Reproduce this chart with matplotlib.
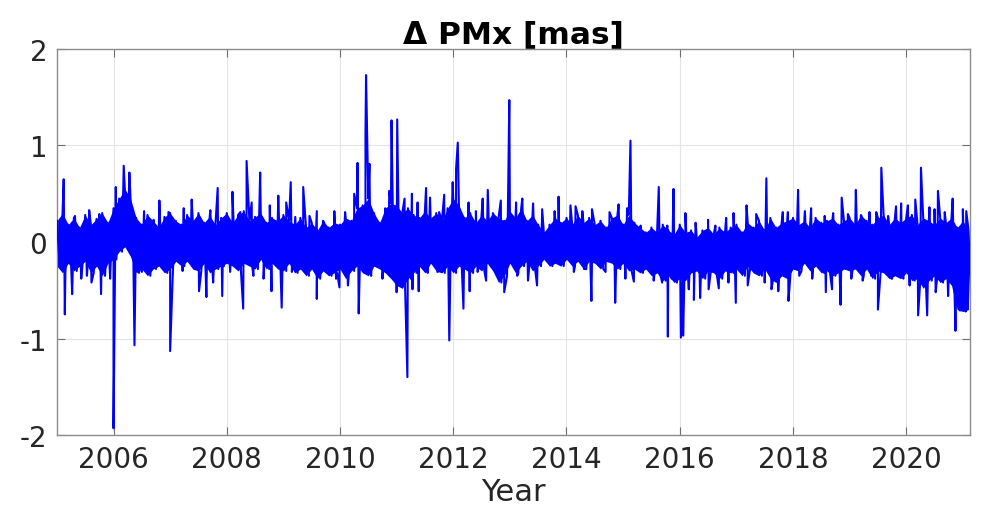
import matplotlib.pyplot as plt
import numpy as np

# core band of the residual series, read every 0.1 yr from 2005.0
band_start = 2005.0
band_step = 0.1
band_hi = [
    0.22, 0.30, 0.18, 0.25, 0.15, 0.28, 0.18, 0.24, 0.30, 0.20,   # 2005
    0.35, 0.45, 0.55, 0.45, 0.25, 0.18, 0.28, 0.22, 0.15, 0.26,   # 2006
    0.30, 0.22, 0.18, 0.28, 0.22, 0.30, 0.20, 0.27, 0.18, 0.25,   # 2007
    0.30, 0.20, 0.28, 0.32, 0.22, 0.26, 0.30, 0.20, 0.25, 0.22,   # 2008
    0.28, 0.22, 0.18, 0.25, 0.15, 0.20, 0.12, 0.22, 0.15, 0.20,   # 2009
    0.18, 0.25, 0.22, 0.35, 0.38, 0.45, 0.30, 0.20, 0.35, 0.40,   # 2010
    0.38, 0.30, 0.35, 0.28, 0.25, 0.32, 0.25, 0.30, 0.22, 0.35,   # 2011
    0.45, 0.38, 0.25, 0.30, 0.20, 0.28, 0.22, 0.30, 0.25, 0.22,   # 2012
    0.32, 0.25, 0.35, 0.22, 0.28, 0.18, 0.10, 0.18, 0.25, 0.20,   # 2013
    0.25, 0.18, 0.28, 0.20, 0.25, 0.18, 0.22, 0.15, 0.25, 0.28,   # 2014
    0.18, 0.28, 0.20, 0.15, 0.10, 0.15, 0.10, 0.18, 0.12, 0.08,   # 2015
    0.18, 0.10, 0.12, 0.05, 0.12, 0.15, 0.08, 0.15, 0.10, 0.15,   # 2016
    0.18, 0.10, 0.20, 0.15, 0.22, 0.12, 0.25, 0.15, 0.20, 0.22,   # 2017
    0.25, 0.18, 0.22, 0.15, 0.25, 0.20, 0.22, 0.25, 0.18, 0.22,   # 2018
    0.25, 0.18, 0.28, 0.22, 0.18, 0.25, 0.28, 0.18, 0.25, 0.20,   # 2019
    0.25, 0.28, 0.18, 0.25, 0.22, 0.18, 0.25, 0.20, 0.25, 0.15,   # 2020
    0.22, 0.12,                                                   # 2021
]
band_lo = [
    -0.25, -0.32, -0.22, -0.30, -0.25, -0.20, -0.32, -0.25, -0.35, -0.22,
    -0.18, -0.10, -0.05, -0.15, -0.32, -0.28, -0.35, -0.28, -0.25, -0.32,
    -0.28, -0.20, -0.25, -0.20, -0.28, -0.30, -0.22, -0.32, -0.28, -0.25,
    -0.22, -0.25, -0.30, -0.22, -0.25, -0.28, -0.18, -0.28, -0.22, -0.28,
    -0.30, -0.22, -0.32, -0.28, -0.35, -0.28, -0.38, -0.30, -0.35, -0.32,
    -0.28, -0.38, -0.30, -0.25, -0.32, -0.35, -0.25, -0.28, -0.32, -0.38,
    -0.45, -0.48, -0.38, -0.32, -0.25, -0.32, -0.22, -0.30, -0.32, -0.25,
    -0.32, -0.25, -0.28, -0.32, -0.25, -0.30, -0.22, -0.30, -0.42, -0.35,
    -0.22, -0.32, -0.25, -0.20, -0.30, -0.25, -0.18, -0.25, -0.22, -0.25,
    -0.18, -0.25, -0.20, -0.28, -0.20, -0.22, -0.28, -0.20, -0.22, -0.28,
    -0.22, -0.30, -0.28, -0.32, -0.28, -0.35, -0.32, -0.40, -0.35, -0.42,
    -0.38, -0.40, -0.32, -0.30, -0.38, -0.30, -0.32, -0.38, -0.30, -0.32,
    -0.28, -0.35, -0.25, -0.32, -0.35, -0.28, -0.38, -0.42, -0.35, -0.38,
    -0.28, -0.30, -0.22, -0.30, -0.25, -0.32, -0.30, -0.35, -0.32, -0.28,
    -0.30, -0.28, -0.35, -0.28, -0.38, -0.30, -0.32, -0.38, -0.35, -0.38,
    -0.32, -0.40, -0.38, -0.48, -0.40, -0.35, -0.42, -0.38, -0.45, -0.70,
    -0.72, -0.70,
]

# individual outliers sticking out of the band (year, mas)
spike_years = [
    2005.12, 2005.32, 2005.57, 2005.75, 2006.04, 2006.18, 2006.28, 2006.54, 2006.71,
    2006.81, 2006.97, 2007.24, 2007.38, 2007.71, 2007.84, 2007.94, 2008.10, 2008.24,
    2008.35, 2008.44, 2008.59, 2008.76, 2008.91, 2009.05, 2009.13, 2009.21, 2009.35,
    2009.46, 2009.59, 2009.72, 2009.90, 2010.09, 2010.25, 2010.31, 2010.45, 2010.46,
    2010.52, 2010.62, 2010.80, 2010.87, 2010.91, 2011.01, 2011.14, 2011.27, 2011.37,
    2011.52, 2011.59, 2011.75, 2011.84, 2011.99, 2012.05, 2012.08, 2012.27, 2012.40,
    2012.52, 2012.61, 2012.72, 2012.84, 2012.99, 2013.11, 2013.22, 2013.41, 2013.57,
    2013.79, 2013.86, 2014.07, 2014.16, 2014.28, 2014.45, 2014.76, 2014.92, 2015.07,
    2015.13, 2015.31, 2015.63, 2015.78, 2015.89, 2016.10, 2016.28, 2016.50, 2016.63,
    2016.82, 2016.95, 2017.18, 2017.35, 2017.53, 2017.82, 2017.91, 2018.09, 2018.21,
    2018.32, 2018.56, 2018.71, 2018.86, 2018.97, 2019.11, 2019.21, 2019.35, 2019.47,
    2019.56, 2019.68, 2019.82, 2019.91, 2020.03, 2020.16, 2020.26, 2020.41, 2020.50,
    2020.56, 2020.68, 2020.82, 2021.00, 2021.06,
    # downward
    2005.14, 2005.27, 2005.43, 2005.53, 2005.61, 2005.78, 2005.94, 2006.00, 2006.37,
    2006.50, 2007.00, 2007.22, 2007.51, 2007.64, 2007.76, 2007.92, 2008.06, 2008.29,
    2008.47, 2008.65, 2008.79, 2008.97, 2009.15, 2009.31, 2009.59, 2009.78, 2009.93,
    2009.99, 2010.14, 2010.33, 2010.54, 2010.75, 2011.00, 2011.19, 2011.28, 2011.39,
    2011.54, 2011.72, 2011.93, 2012.18, 2012.29, 2012.43, 2012.58, 2012.74, 2012.90,
    2013.13, 2013.32, 2013.48, 2013.69, 2013.88, 2014.13, 2014.31, 2014.44, 2014.69,
    2014.86, 2015.04, 2015.19, 2015.54, 2015.69, 2015.79, 2015.86, 2016.02, 2016.06,
    2016.16, 2016.25, 2016.36, 2016.51, 2016.69, 2016.86, 2016.99, 2017.20, 2017.32,
    2017.50, 2017.62, 2017.74, 2017.92, 2018.11, 2018.34, 2018.58, 2018.69, 2018.84,
    2019.03, 2019.23, 2019.38, 2019.50, 2019.74, 2019.93, 2020.06, 2020.21, 2020.37,
    2020.52, 2020.74, 2020.87, 2020.95, 2021.05,
]
spike_vals = [
    0.65, 0.27, 0.33, 0.29, 0.57, 0.79, 0.72, 0.32, 0.23,
    0.43, 0.31, 0.35, 0.44, 0.33, 0.56, 0.24, 0.52, 0.31,
    0.84, 0.41, 0.72, 0.38, 0.48, 0.41, 0.62, 0.26, 0.57,
    0.27, 0.32, 0.20, 0.32, 0.31, 0.50, 0.82, 1.12, 1.73,
    0.81, 0.22, 0.32, 0.53, 1.26, 1.27, 0.45, 0.50, 0.41,
    0.56, 0.46, 0.31, 0.49, 0.62, 0.76, 1.03, 0.41, 0.32,
    0.45, 0.54, 0.27, 0.43, 1.47, 0.41, 0.45, 0.40, 0.34,
    0.32, 0.47, 0.38, 0.37, 0.32, 0.34, 0.31, 0.39, 0.35,
    1.05, 0.17, 0.57, 0.17, 0.55, 0.30, 0.20, 0.23, 0.17,
    0.25, 0.30, 0.38, 0.29, 0.66, 0.31, 0.31, 0.54, 0.32,
    0.35, 0.27, 0.30, 0.46, 0.29, 0.54, 0.27, 0.31, 0.31,
    0.77, 0.27, 0.37, 0.40, 0.38, 0.44, 0.77, 0.36, 0.34,
    0.53, 0.31, 0.45, 0.34, 0.32,
    # downward
    -0.75, -0.54, -0.38, -0.35, -0.42, -0.54, -0.38, -1.93, -1.07,
    -0.31, -1.13, -0.30, -0.51, -0.57, -0.42, -0.56, -0.31, -0.69,
    -0.35, -0.38, -0.51, -0.68, -0.31, -0.25, -0.59, -0.21, -0.38,
    -0.47, -0.45, -0.74, -0.31, -0.38, -0.52, -1.40, -0.49, -0.51,
    -0.31, -0.31, -1.02, -0.69, -0.51, -0.31, -0.40, -0.23, -0.52,
    -0.35, -0.40, -0.45, -0.21, -0.23, -0.31, -0.28, -0.61, -0.31,
    -0.63, -0.38, -0.41, -0.40, -0.42, -0.98, -0.38, -0.99, -0.97,
    -0.49, -0.60, -0.58, -0.49, -0.48, -0.42, -0.63, -0.45, -0.31,
    -0.42, -0.49, -0.51, -0.61, -0.35, -0.38, -0.52, -0.49, -0.65,
    -0.38, -0.40, -0.35, -0.70, -0.38, -0.35, -0.45, -0.76, -0.76,
    -0.52, -0.56, -0.92, -0.71, -0.71,
]

year_ticks = [2006, 2008, 2010, 2012, 2014, 2016, 2018, 2020]
val_ticks = [-2, -1, 0, 1, 2]

# one time-ordered series: band zigzag (upper, then lower half a step later) + spikes
band_hi = np.array(band_hi)
band_lo = np.array(band_lo)
t_band = band_start + band_step * np.arange(len(band_hi))
t_all = np.concatenate([t_band, t_band + band_step / 2, spike_years])
v_all = np.concatenate([band_hi, band_lo, spike_vals])
order = np.argsort(t_all, kind="stable")
t_all, v_all = t_all[order], v_all[order]

plt.rcParams['font.family'] = 'DejaVu Sans'
plt.rcParams['axes.unicode_minus'] = False

fig = plt.figure(figsize=(9.81, 5.10), dpi=100)
ax = fig.add_axes([0.058, 0.145, 0.931, 0.757])

# dense part of the daily series
ax.fill_between(t_band, band_lo, band_hi, color='#0000ff', lw=0, zorder=2)
ax.plot(t_all, v_all, color='#0000ff', lw=1.5, zorder=3)

ax.set_xlim(2005.0, 2021.13)
ax.set_ylim(-2, 2)
ax.set_xticks(year_ticks)
ax.set_yticks(val_ticks)
ax.grid(True, color='#e3e3e3', lw=0.8, zorder=0)
ax.set_axisbelow(True)

for s in ax.spines.values():
    s.set_color('#8c8c8c')
    s.set_linewidth(1.0)

ax.tick_params(direction='in', length=6, width=0.8, color='#6e6e6e',
               labelsize=20, labelcolor='#262626', top=True, right=True, pad=7)

ax.set_xlabel('Year', fontsize=22, color='#262626', labelpad=3)
ax.set_title('Δ PMx [mas]', fontsize=22.5, fontweight='bold', pad=5)

fig.savefig('out.png', dpi=100)
